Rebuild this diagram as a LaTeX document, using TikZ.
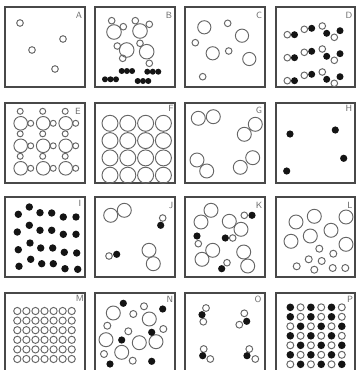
\documentclass[tikz,border=0pt]{standalone}
\definecolor{bordergray}{HTML}{484848}
\definecolor{circgray}{HTML}{666666}
\definecolor{lblgray}{HTML}{6A6A6A}
\tikzset{
  panel/.style={draw=bordergray, line width=1.3pt},
  oc/.style={draw=circgray, line width=0.95pt},
  fc/.style={fill=black!92, draw=none},
  lbl/.style={font=\fontsize{9}{9}\sffamily, text=lblgray, inner sep=0pt}
}
\begin{document}
\begin{tikzpicture}[x=1pt,y=-1pt]
\useasboundingbox (0,0) rectangle (356,370);
\clip (0,0) rectangle (356,370);
\fill[white] (0,0) rectangle (356,370);

% ---------- A
\begin{scope}[shift={(5,7)}]
\draw[panel] (0,0) rectangle (80,80);
\node[lbl] (la) at (74,8) {A};
\foreach \x/\y in {15/16,58/32,27/43,50/62} \draw[oc] (\x,\y) circle (3.3pt);
\end{scope}

% ---------- B
\begin{scope}[shift={(95,7)}]
\draw[panel] (0,0) rectangle (80,80);
\node[lbl] (lb) at (74,8) {B};
\foreach \x/\y in {19/25,45/24,31.7/43,51.7/44.7} \draw[oc] (\x,\y) circle (7.3pt);
\foreach \x/\y in {16.7/13.7,28.3/19.7,40.3/13.7,54.3/17.3,22.3/39,27.7/51.3,45/36.3,54.3/56.3} \draw[oc] (\x,\y) circle (3.3pt);
\foreach \x/\y in {26.7/64,31.9/64,37.1/64,52.3/64.7,57.8/64.7,63.3/64.7,10/72.3,15.5/72.3,21/72.3,42.7/74,48/74,53.3/74} \fill[fc] (\x,\y) circle (3pt);
\end{scope}

% ---------- C
\begin{scope}[shift={(185,7)}]
\draw[panel] (0,0) rectangle (80,80);
\node[lbl] (lc) at (74,8) {C};
\foreach \x/\y in {19.3/20.3,57/28.7,27.7/46.3,64.3/52} \draw[oc] (\x,\y) circle (6.6pt);
\foreach \x/\y in {42.7/16.3,10.3/35.7,43.7/44,17.7/69.7} \draw[oc] (\x,\y) circle (3.3pt);
\end{scope}

% ---------- D
\begin{scope}[shift={(276,7)}]
\draw[panel] (0,0) rectangle (79,80);
\node[lbl] (ld) at (73,8) {D};
\foreach \d in {0,23,46} {
  \foreach \x/\y in {11.3/27.7,28.3/22.3,46.3/19,58.3/30.3} \draw[oc] (\x,\y+\d) circle (3.3pt);
  \foreach \x/\y in {18.5/27.7,35.7/21.3,50.7/26.3,64/23.7} \fill[fc] (\x,\y+\d) circle (3.5pt);
}
\end{scope}

% ---------- E
\begin{scope}[shift={(5,103)}]
\draw[panel] (0,0) rectangle (80,80);
\node[lbl] (le) at (73,8) {E};
\foreach \i in {0,1,2} \foreach \j in {0,1,2} {
  \draw[oc] (15.7+22.5*\i,20.3+22.5*\j) circle (6.8pt);
  \draw[oc] (15.2+22.5*\i,8.3+22.5*\j) circle (3pt);
  \draw[oc] (25.7+22.5*\i,20.3+22.5*\j) circle (3pt);
}
\end{scope}

% ---------- F
\begin{scope}[shift={(95,103)}]
\draw[panel] (0,0) rectangle (80,80);
\node[lbl] (lf) at (76,5) {F};
\foreach \i in {0,...,3} \foreach \j in {0,...,3}
  \draw[oc] (15+17.8*\i,20.3+17.3*\j) circle (8pt);
\end{scope}

% ---------- G
\begin{scope}[shift={(185,103)}]
\draw[panel] (0,0) rectangle (80,80);
\node[lbl] (lg) at (74,7) {G};
\foreach \x/\y in {13.3/15.3,28.3/13.7,70.3/21.3,59.3/31.3,12/57,21.7/68,67.7/54.7,55.3/64.3} \draw[oc] (\x,\y) circle (7pt);
\end{scope}

% ---------- H
\begin{scope}[shift={(276,103)}]
\draw[panel] (0,0) rectangle (79,80);
\node[lbl] (lh) at (73,5) {H};
\foreach \x/\y in {14/31,59.3/27,67.7/55.3,10.7/68} \fill[fc] (\x,\y) circle (3.6pt);
\end{scope}

% ---------- I
\begin{scope}[shift={(5,197)}]
\draw[panel] (0,0) rectangle (80,80);
\node[lbl] (li) at (75,6) {I};
\foreach \x/\y in {13.3/17.3,24.3/10,35/15.7,46.7/16,58.3/20,71/20,
                   12.3/35,24.3/28.3,35/33.3,46.7/33.3,58.3/37.3,71/37.3,
                   13.3/52.7,25/46,35.7/51,47.7/51,59.3/55.3,71.7/56,
                   14/69.3,25.7/62.3,36.7/66.7,48.3/66.7,60/71.7,72.7/72.3}
  \fill[fc] (\x,\y) circle (3.7pt);
\end{scope}

% ---------- J
\begin{scope}[shift={(95,197)}]
\draw[panel] (0,0) rectangle (80,80);
\node[lbl] (lj) at (76,8) {J};
\foreach \x/\y in {15.7/18.3,29.3/13.3,54/53.3,58.3/66.7} \draw[oc] (\x,\y) circle (7pt);
\foreach \x/\y in {67.7/21,14/59} \draw[oc] (\x,\y) circle (3.3pt);
\foreach \x/\y in {65.7/28.3,21.7/57.3} \fill[fc] (\x,\y) circle (3.6pt);
\end{scope}

% ---------- K
\begin{scope}[shift={(185,197)}]
\draw[panel] (0,0) rectangle (80,80);
\node[lbl] (lk) at (74,8) {K};
\foreach \x/\y in {16/25,26/13.3,44.3/24.3,56/32.3,27.7/53.3,17/62.3,58.7/55,62.7/69} \draw[oc] (\x,\y) circle (7pt);
\foreach \x/\y in {59.3/18.3,13.3/46.7,47.7/41,42/65.7} \draw[oc] (\x,\y) circle (3.3pt);
\foreach \x/\y in {67/18.3,12/39,40.3/41,36.7/71.7} \fill[fc] (\x,\y) circle (3.6pt);
\end{scope}

% ---------- L
\begin{scope}[shift={(276,197)}]
\draw[panel] (0,0) rectangle (79,80);
\node[lbl] (ll) at (74,8) {L};
\foreach \x/\y in {20/25,38.3/19.3,70/20,55/33.3,34.3/39,15/44.3,70/47.3} \draw[oc] (\x,\y) circle (7pt);
\foreach \x/\y in {43.3/51.7,57.3/56.7,32.7/62.3,45.7/64,20.7/69.3,38.3/72.7,56.7/71,69.3/71} \draw[oc] (\x,\y) circle (3.5pt);
\end{scope}

% ---------- M
\begin{scope}[shift={(5,293)}]
\draw[panel] (0,0) rectangle (80,82);
\node[lbl] (lm) at (75,5) {M};
\foreach \i in {0,...,6} \foreach \j in {0,...,5}
  \draw[oc] (12.3+9.07*\i,18+9.6*\j) circle (3.6pt);
\end{scope}

% ---------- N
\begin{scope}[shift={(95,293)}]
\draw[panel] (0,0) rectangle (80,82);
\node[lbl] (ln) at (75,6) {N};
\foreach \x/\y in {18.3/20,54.3/26,11/46.7,26.7/59.3,44.3/49.7,61/48.7} \draw[oc] (\x,\y) circle (7pt);
\foreach \x/\y in {49/13.3,38.3/21,12.3/32.7,33.3/38.3,68.3/36,9/61,37.7/67.7} \draw[oc] (\x,\y) circle (3.5pt);
\foreach \x/\y in {28.3/10.3,67.7/16,56.7/39.3,26.7/47,15/71,56.7/68.3} \fill[fc] (\x,\y) circle (3.6pt);
\end{scope}

% ---------- O
\begin{scope}[shift={(185,293)}]
\draw[panel] (0,0) rectangle (80,82);
\node[lbl] (lo) at (73,6) {O};
\foreach \x/\y in {21/15,18.3/28.7,59.3/20.3,54.3/31.7,18.7/56,25.3/66,64.3/56,70.3/66} \draw[oc] (\x,\y) circle (3.4pt);
\foreach \x/\y in {17/21.7,61.7/28.3,17.7/62.7,62/62.7} \fill[fc] (\x,\y) circle (3.6pt);
\end{scope}

% ---------- P
\begin{scope}[shift={(276,293)}]
\draw[panel] (0,0) rectangle (79,82);
\node[lbl] (lp) at (74,6) {P};
\foreach \j/\p in {0/0,1/0,2/1,3/0,4/1,5/0,6/1} \foreach \i in {0,...,5} {
  \pgfmathtruncatemacro\f{mod(\i+\p,2)}
  \ifnum\f=0
    \fill[fc] (14.3+10.3*\i,14.3+9.5*\j) circle (3.8pt);
  \else
    \draw[oc] (14.3+10.3*\i,14.3+9.5*\j) circle (3.5pt);
  \fi
}
\end{scope}
\end{tikzpicture}
\end{document}
